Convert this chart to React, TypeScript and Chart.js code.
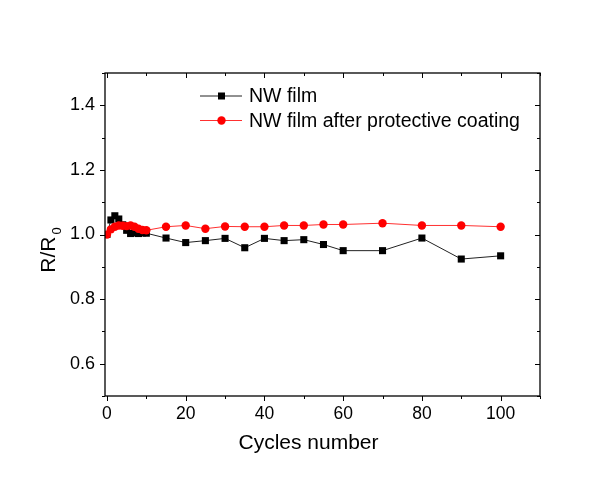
import React, { useEffect, useRef } from "react";
import { Chart, registerables } from "chart.js";

Chart.register(...registerables);

const cyclesBlack = [0, 1, 2, 3, 4, 5, 6, 7, 8, 9, 10, 15, 20, 25, 30, 35, 40, 45, 50, 55, 60, 70, 80, 90, 100];
const nwFilm = [1.0, 1.045, 1.058, 1.048, 1.03, 1.013, 1.003, 1.005, 1.003, 1.005, 1.004, 0.989, 0.975, 0.981, 0.988, 0.959, 0.988, 0.981, 0.984, 0.969, 0.95, 0.95, 0.989, 0.924, 0.934];

const cyclesRed = [0, 1, 2, 3, 4, 5, 6, 7, 8, 9, 10, 15, 20, 25, 30, 35, 40, 45, 50, 55, 60, 70, 80, 90, 100];
const nwFilmCoated = [1.0, 1.016, 1.024, 1.028, 1.027, 1.026, 1.028, 1.024, 1.018, 1.014, 1.013, 1.024, 1.028, 1.018, 1.025, 1.024, 1.024, 1.028, 1.028, 1.031, 1.031, 1.035, 1.028, 1.028, 1.024];

const seriesLabels = ["NW film", "NW film after protective coating"];
const xTitle = "Cycles number";
const yTitleMain = "R/R";
const yTitleSub = "0";

const X_MIN = -0.5;
const X_MAX = 110;
const Y_MIN = 0.5;
const Y_MAX = 1.5;

const FONT = "Arial, 'Liberation Sans', sans-serif";

const framePlugin = {
  id: "frame",
  afterDraw(chart: any) {
    const { ctx, chartArea } = chart;
    const { left, right, top, bottom } = chartArea;
    const xs = chart.scales.x;
    const ys = chart.scales.y;
    ctx.save();
    ctx.strokeStyle = "#000";
    ctx.lineWidth = 1.3;
    ctx.strokeRect(left, top, right - left, bottom - top);
    ctx.lineWidth = 1;
    ctx.beginPath();
    for (let v = 0; v <= 110; v += 10) {
      const px = Math.round(xs.getPixelForValue(v)) + 0.5;
      const major = v % 20 === 0;
      const len = major ? 5 : 3;
      ctx.moveTo(px, bottom);
      ctx.lineTo(px, bottom + len);
      ctx.moveTo(px, top);
      ctx.lineTo(px, top + len);
    }
    for (let i = 5; i <= 15; i++) {
      const v = i / 10;
      const py = Math.round(ys.getPixelForValue(v)) + 0.5;
      const major = i % 2 === 0;
      const len = major ? 5 : 3;
      ctx.moveTo(left, py);
      ctx.lineTo(left - len, py);
      ctx.moveTo(right, py);
      ctx.lineTo(right - len, py);
    }
    ctx.stroke();

    // x title
    ctx.fillStyle = "#000";
    ctx.font = `21px ${FONT}`;
    ctx.textAlign = "center";
    ctx.textBaseline = "middle";
    ctx.fillText(xTitle, (xs.getPixelForValue(X_MIN) + xs.getPixelForValue(X_MAX)) / 2 - 14, 443);

    // y title with subscript
    ctx.save();
    ctx.translate(55, 250);
    ctx.rotate(-Math.PI / 2);
    ctx.font = `21px ${FONT}`;
    ctx.textAlign = "left";
    ctx.textBaseline = "alphabetic";
    const mainW = ctx.measureText(yTitleMain).width;
    ctx.font = `13px ${FONT}`;
    const subW = ctx.measureText(yTitleSub).width;
    const total = mainW + 2 + subW;
    ctx.font = `21px ${FONT}`;
    ctx.fillText(yTitleMain, -total / 2, 0);
    ctx.font = `13px ${FONT}`;
    ctx.fillText(yTitleSub, -total / 2 + mainW + 2, 6);
    ctx.restore();

    // legend
    const items = [
      { label: seriesLabels[0], color: "#000", lineColor: "#222", shape: "rect", y: 96 },
      { label: seriesLabels[1], color: "#ff0000", lineColor: "#ff3030", shape: "circle", y: 120.5 },
    ];
    items.forEach((it) => {
      ctx.strokeStyle = it.lineColor;
      ctx.lineWidth = 1;
      ctx.beginPath();
      ctx.moveTo(200, it.y);
      ctx.lineTo(242, it.y);
      ctx.stroke();
      ctx.fillStyle = it.color;
      if (it.shape === "rect") {
        ctx.fillRect(221.5 - 3.5, it.y - 3.5, 7, 7);
      } else {
        ctx.beginPath();
        ctx.arc(221.5, it.y, 4.2, 0, Math.PI * 2);
        ctx.fill();
      }
      ctx.fillStyle = "#000";
      ctx.font = `19.5px ${FONT}`;
      ctx.textAlign = "left";
      ctx.textBaseline = "middle";
      ctx.fillText(it.label, 249, it.y + 1);
    });
    ctx.restore();
  },
};

export default function App() {
  const ref = useRef<HTMLCanvasElement | null>(null);
  useEffect(() => {
    if (!ref.current) return;
    const chart = new Chart(ref.current, {
      type: "line",
      data: {
        datasets: [
          {
            label: seriesLabels[0],
            data: cyclesBlack.map((x, i) => ({ x, y: nwFilm[i] })),
            borderColor: "#222",
            backgroundColor: "#000",
            borderWidth: 1,
            pointStyle: "rect",
            pointRadius: 5,
            pointBorderWidth: 0,
            order: 1,
          },
          {
            label: seriesLabels[1],
            data: cyclesRed.map((x, i) => ({ x, y: nwFilmCoated[i] })),
            borderColor: "#ff3030",
            backgroundColor: "#ff0000",
            borderWidth: 1,
            pointStyle: "circle",
            pointRadius: 4.2,
            pointBorderWidth: 0,
            order: 0,
          },
        ],
      },
      options: {
        responsive: false,
        animation: false,
        devicePixelRatio: 1,
        layout: { padding: { top: 73, right: 60, left: 0, bottom: 0 } },
        plugins: { legend: { display: false }, tooltip: { enabled: false } },
        scales: {
          x: {
            type: "linear",
            min: X_MIN,
            max: X_MAX,
            afterBuildTicks: (scale: any) => {
              scale.ticks = [0, 20, 40, 60, 80, 100].map((v) => ({ value: v }));
            },
            afterFit: (scale: any) => {
              scale.height = 84;
            },
            grid: { display: false, drawTicks: false },
            border: { display: false },
            ticks: {
              color: "#000",
              font: { size: 17.5, family: FONT },
              padding: 8,
              maxRotation: 0,
              autoSkip: false,
            },
          },
          y: {
            type: "linear",
            min: Y_MIN,
            max: Y_MAX,
            afterBuildTicks: (scale: any) => {
              scale.ticks = [0.6, 0.8, 1.0, 1.2, 1.4].map((v) => ({ value: v }));
            },
            afterFit: (scale: any) => {
              scale.width = 105;
            },
            grid: { display: false, drawTicks: false },
            border: { display: false },
            ticks: {
              color: "#000",
              font: { size: 18, family: FONT },
              padding: 10,
              callback: (v: any) => Number(v).toFixed(1),
            },
          },
        },
      },
      plugins: [framePlugin],
    });
    return () => chart.destroy();
  }, []);
  return (
    <div style={{ position: "absolute", left: 0, top: 0, width: 600, height: 480, background: "#fff" }}>
      <canvas ref={ref} width={600} height={480} style={{ width: 600, height: 480 }} />
    </div>
  );
}
